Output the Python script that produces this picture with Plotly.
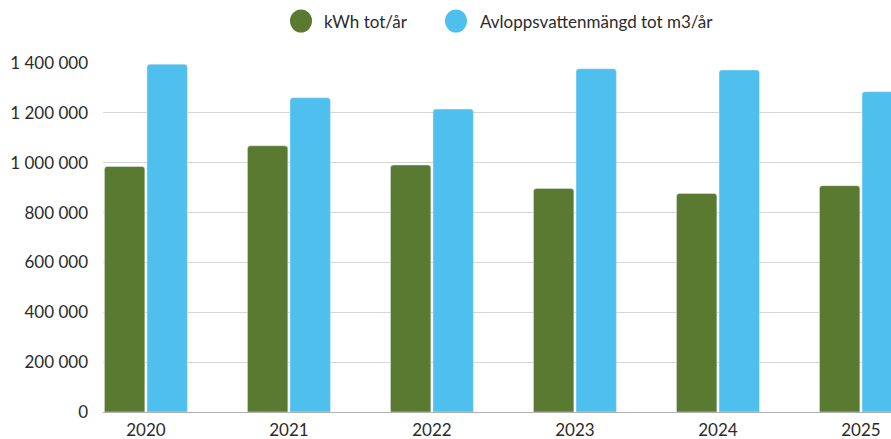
import plotly.graph_objects as go

years = ["2020", "2021", "2022", "2023", "2024", "2025"]
kwh = [985000, 1068000, 991000, 897000, 877000, 908000]
avlopp = [1395000, 1261000, 1215000, 1377000, 1372000, 1285000]
name_kwh = "kWh tot/år"
name_avl = "Avloppsvattenmängd tot m3/år"
green = "#5a7a32"
blue = "#4fbfee"
tickvals = [0, 200000, 400000, 600000, 800000, 1000000, 1200000, 1400000]
ticktext = ["0", "200 000", "400 000", "600 000", "800 000", "1 000 000", "1 200 000", "1 400 000"]

fig = go.Figure()
fig.add_trace(go.Bar(x=years, y=kwh, name=name_kwh, marker=dict(color=green), showlegend=False))
fig.add_trace(go.Bar(x=years, y=avlopp, name=name_avl, marker=dict(color=blue), showlegend=False))

W, H = 891, 439
ML, MR, MT, MB = 103, 0, 63, 27
pw, ph = W - ML - MR, H - MT - MB

def px_x(px):
    return (px - ML) / pw

def px_y(py):
    return (H - MB - py) / ph

legend_items = [(name_kwh, green, 301, 322), (name_avl, blue, 456, 478)]
shapes = []
annotations = []
for name, col, cx, tx in legend_items:
    shapes.append(dict(type="circle", xref="paper", yref="paper",
                       xsizemode="pixel", ysizemode="pixel",
                       xanchor=px_x(cx), yanchor=px_y(21),
                       x0=-11, x1=11, y0=-11.5, y1=11.5,
                       fillcolor=col, line=dict(width=0)))
    annotations.append(dict(text=name, xref="paper", yref="paper",
                            x=px_x(tx), y=px_y(21), xanchor="left", yanchor="middle",
                            showarrow=False, font=dict(size=17, color="#2b2b2b")))

fig.update_layout(
    width=W, height=H,
    margin=dict(l=ML, r=MR, t=MT, b=MB),
    paper_bgcolor="white", plot_bgcolor="white",
    font=dict(family="Lato, sans-serif", size=17, color="#2b2b2b"),
    barmode="group", bargap=0.405, bargroupgap=0.05, barcornerradius=3,
    showlegend=False,
    shapes=shapes, annotations=annotations,
    xaxis=dict(type="category", range=[-0.30, 5.21], showgrid=False,
               showline=True, linecolor="#b0b0b0", linewidth=1, automargin=False,
               ticks="", ticklabelstandoff=3, tickfont=dict(size=17)),
    yaxis=dict(range=[0, 1400000], tickvals=tickvals, ticktext=ticktext,
               showgrid=True, gridcolor="#d6d6d6", gridwidth=1, automargin=False,
               zeroline=False, ticks="", ticklabelstandoff=14,
               tickfont=dict(size=17)),
)
fig.write_html("out.html", config={"displayModeBar": False},
               post_script="document.body.style.margin='0';")
